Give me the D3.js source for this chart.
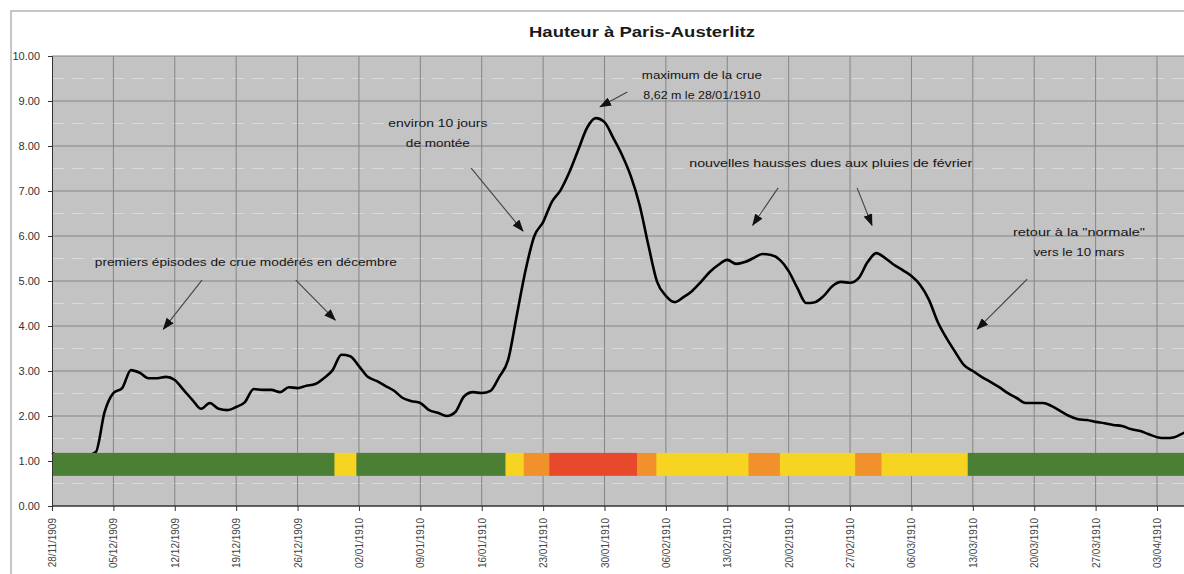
<!DOCTYPE html>
<html>
<head>
<meta charset="utf-8">
<script src="https://cdn.jsdelivr.net/npm/d3@7"></script>
<style>
  body { margin: 0; background: #fff; }
  svg { display: block; font-family: "Liberation Sans", Arial, sans-serif; }
</style>
</head>
<body>
<div id="chart"></div>
<script>
// Hauteur journalière à Paris-Austerlitz (m), un point par jour depuis le 28/11/1909
const firstDay = "1909-11-28";
const heights = [
  1.18, 1.10, 1.08, 1.10, 1.12, 1.20, 2.09, 2.51, 2.62, 3.02,
  2.96, 2.84, 2.84, 2.87, 2.80, 2.58, 2.36, 2.16, 2.29, 2.16,
  2.13, 2.20, 2.31, 2.60, 2.58, 2.58, 2.53, 2.64, 2.62, 2.67,
  2.71, 2.84, 3.02, 3.36, 3.33, 3.11, 2.87, 2.78, 2.67, 2.56,
  2.40, 2.33, 2.29, 2.13, 2.07, 2.00, 2.09, 2.44, 2.53, 2.51,
  2.56, 2.87, 3.24, 4.24, 5.24, 6.00, 6.31, 6.76, 7.02, 7.42,
  7.91, 8.40, 8.62, 8.53, 8.18, 7.80, 7.33, 6.69, 5.80, 4.98,
  4.67, 4.53, 4.64, 4.78, 4.98, 5.20, 5.36, 5.47, 5.38, 5.42,
  5.51, 5.60, 5.58, 5.47, 5.22, 4.84, 4.51, 4.53, 4.67, 4.89,
  4.98, 4.96, 5.07, 5.42, 5.62, 5.51, 5.36, 5.24, 5.11, 4.91,
  4.58, 4.09, 3.73, 3.42, 3.13, 3.00, 2.87, 2.76, 2.64, 2.51,
  2.40, 2.29, 2.29, 2.29, 2.22, 2.11, 2.00, 1.93, 1.91, 1.87,
  1.84, 1.80, 1.78, 1.71, 1.67, 1.60, 1.53, 1.51, 1.53, 1.62,
  1.68
];

// axis ticks
const xTickFirst = "1909-11-28";
const xTickLast = "1910-04-03";
const yTickValues = [0, 1, 2, 3, 4, 5, 6, 7, 8, 9, 10];
const yHalfValues = [0.5, 1.5, 2.5, 3.5, 4.5, 5.5, 6.5, 7.5, 8.5, 9.5];

// bande de vigilance : bornes et niveau de chaque tronçon
const alertBreaks = [
  "1909-11-28T00", "1909-12-30T05", "1910-01-01T17", "1910-01-18T17",
  "1910-01-20T19", "1910-01-23T17", "1910-02-02T17", "1910-02-04T22",
  "1910-02-15T10", "1910-02-19T00", "1910-02-27T14", "1910-03-02T14",
  "1910-03-12T10", "1910-04-10T00"
];
const alertLevels = [
  "vert", "jaune", "vert", "jaune", "orange", "rouge", "orange",
  "jaune", "orange", "jaune", "orange", "jaune", "vert"
];
const alertBand = [0.67, 1.18];

// annotations, positions en (jours depuis le 28/11, hauteur)
const notes = [
  { lines: ["premiers épisodes de crue modérés en décembre"], day: 22.1, h: 5.33, w: [302],
    arrows: [[[17.1, 5.02], [12.7, 3.93]], [[27.8, 5.02], [32.3, 4.13]]] },
  { lines: ["environ 10 jours", "de montée"], day: 44.0, h: 8.42, w: [99, 64],
    arrows: [[[47.8, 7.51], [53.7, 6.11]]] },
  { lines: ["maximum de la crue", "8,62 m le 28/01/1910"], day: 74.1, h: 9.49, w: [120, 117],
    arrows: [[[65.6, 9.20], [62.5, 8.87]]] },
  { lines: ["nouvelles hausses  dues aux pluies de février"], day: 88.8, h: 7.53, w: [283],
    arrows: [[[82.8, 7.07], [79.9, 6.24]], [[91.8, 7.07], [93.5, 6.24]]] },
  { lines: ["retour à la \"normale\"", "vers le 10 mars"], day: 117.1, h: 6.0, w: [132, 91],
    arrows: [[[111.2, 5.04], [105.5, 3.93]]] }
];

const levelColor = { vert: "#4a7f34", jaune: "#f7d421", orange: "#f0912b", rouge: "#e8492a" };

const W = 1184, H = 574;
const margin = { top: 56, left: 52, bottom: 68 };

const parseDay = d3.utcParse("%Y-%m-%d");
const parseHour = d3.utcParse("%Y-%m-%dT%H");
const start = parseDay(firstDay);
const dates = d3.utcDay.range(start, d3.utcDay.offset(start, heights.length));
const series = dates.map((d, i) => ({ date: d, value: heights[i] }));
const dayToDate = n => new Date(+start + n * 864e5);

const svg = d3.select("#chart").append("svg")
  .attr("width", W)
  .attr("height", H);

const x = d3.scaleUtc()
  .domain([parseDay(xTickFirst), parseDay(xTickLast)])
  .range([margin.left, 1157]);

const y = d3.scaleLinear()
  .domain([0, 10])
  .range([H - margin.bottom - 0, margin.top]);

const plotRight = W + 20;

// cadre du graphique
svg.append("path")
  .attr("d", `M11,${H} V11 H${W}`)
  .attr("fill", "none")
  .attr("stroke", "#b4b4b4")
  .attr("stroke-width", 1.5);

// titre
svg.append("text")
  .attr("x", 642)
  .attr("y", 37)
  .attr("text-anchor", "middle")
  .attr("font-size", 14)
  .attr("font-weight", "bold")
  .attr("fill", "#1a1a1a")
  .attr("textLength", 226)
  .attr("lengthAdjust", "spacingAndGlyphs")
  .text("Hauteur à Paris-Austerlitz");

// fond de la zone de tracé
svg.append("rect")
  .attr("x", margin.left)
  .attr("y", y(10))
  .attr("width", plotRight - margin.left)
  .attr("height", y(0) - y(10))
  .attr("fill", "#c3c3c3");

// grille
const xTicks = d3.utcSunday.range(parseDay(xTickFirst), d3.utcDay.offset(parseDay(xTickLast), 1));

svg.append("g")
  .selectAll("line")
  .data(yHalfValues)
  .join("line")
  .attr("x1", margin.left)
  .attr("x2", plotRight)
  .attr("y1", d => y(d))
  .attr("y2", d => y(d))
  .attr("stroke", "#dadada")
  .attr("stroke-width", 1)
  .attr("stroke-dasharray", "12,8");

svg.append("g")
  .selectAll("line")
  .data(yTickValues.slice(1))
  .join("line")
  .attr("x1", margin.left)
  .attr("x2", plotRight)
  .attr("y1", d => y(d))
  .attr("y2", d => y(d))
  .attr("stroke", "#858585")
  .attr("stroke-width", 1);

svg.append("g")
  .selectAll("line")
  .data(xTicks.slice(1))
  .join("line")
  .attr("x1", d => x(d))
  .attr("x2", d => x(d))
  .attr("y1", y(10))
  .attr("y2", y(0))
  .attr("stroke", "#858585")
  .attr("stroke-width", 1);

// courbe de hauteur
svg.append("path")
  .datum(series)
  .attr("d", d3.line()
    .curve(d3.curveMonotoneX)
    .x(d => x(d.date))
    .y(d => y(d.value)))
  .attr("fill", "none")
  .attr("stroke", "#000")
  .attr("stroke-width", 2.6)
  .attr("stroke-linejoin", "round");

// bande de vigilance
svg.append("g")
  .selectAll("rect")
  .data(alertLevels)
  .join("rect")
  .attr("x", (d, i) => x(parseHour(alertBreaks[i])))
  .attr("width", (d, i) => x(parseHour(alertBreaks[i + 1])) - x(parseHour(alertBreaks[i])) + 0.5)
  .attr("y", y(alertBand[1]))
  .attr("height", y(alertBand[0]) - y(alertBand[1]))
  .attr("fill", d => levelColor[d]);

// axes
const yAxis = svg.append("g")
  .attr("transform", `translate(${margin.left},0)`)
  .call(d3.axisLeft(y).tickValues(yTickValues).tickFormat(d3.format(".2f")).tickSize(4).tickPadding(8));
yAxis.select(".domain").attr("stroke", "#333");
yAxis.selectAll(".tick line").attr("stroke", "#333");
yAxis.selectAll("text")
  .attr("font-size", 11)
  .attr("font-family", "'Liberation Sans', Arial, sans-serif")
  .attr("fill", "#333");

const xAxis = svg.append("g")
  .attr("transform", `translate(0,${y(0)})`)
  .call(d3.axisBottom(x).tickValues(xTicks).tickFormat(d3.utcFormat("%d/%m/%Y")).tickSize(5).tickSizeOuter(0));
xAxis.select(".domain").attr("d", `M${margin.left},0H${plotRight}`).attr("stroke", "#333").attr("stroke-width", 1.5);
xAxis.selectAll(".tick line").attr("stroke", "#333");
xAxis.selectAll("text")
  .attr("font-size", 10)
  .attr("font-family", "'Liberation Sans', Arial, sans-serif")
  .attr("fill", "#444")
  .attr("text-anchor", "end")
  .attr("transform", "rotate(-90)")
  .attr("x", -12)
  .attr("y", 0)
  .attr("dy", "0.35em");

// flèches et annotations
svg.append("defs").append("marker")
  .attr("id", "head")
  .attr("viewBox", "0 0 12 9")
  .attr("refX", 11)
  .attr("refY", 4.5)
  .attr("markerUnits", "userSpaceOnUse")
  .attr("markerWidth", 12)
  .attr("markerHeight", 9)
  .attr("orient", "auto")
  .append("path")
  .attr("d", "M0,0 L12,4.5 L0,9 Z")
  .attr("fill", "#111");

const noteG = svg.append("g");

notes.forEach(n => {
  n.lines.forEach((t, i) => {
    noteG.append("text")
      .attr("x", x(dayToDate(n.day)))
      .attr("y", y(n.h) + i * 20)
      .attr("text-anchor", "middle")
      .attr("font-size", 11.5)
      .attr("fill", "#151515")
      .attr("textLength", n.w[i])
      .attr("lengthAdjust", "spacingAndGlyphs")
      .text(t);
  });
  n.arrows.forEach(a => {
    noteG.append("line")
      .attr("x1", x(dayToDate(a[0][0])))
      .attr("y1", y(a[0][1]))
      .attr("x2", x(dayToDate(a[1][0])))
      .attr("y2", y(a[1][1]))
      .attr("stroke", "#444")
      .attr("stroke-width", 1.1)
      .attr("marker-end", "url(#head)");
  });
});
</script>
</body>
</html>
